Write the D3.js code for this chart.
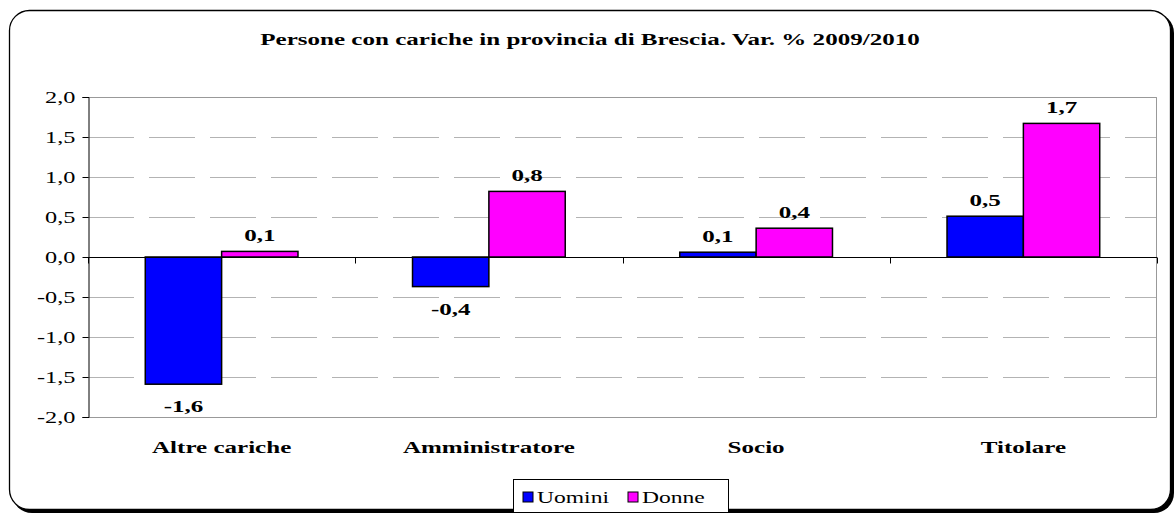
<!DOCTYPE html>
<html>
<head>
<meta charset="utf-8">
<script src="https://cdn.jsdelivr.net/npm/d3@7"></script>
<style>
  body { margin: 0; background: #fff; }
</style>
</head>
<body>
<div id="chart"></div>
<script>
const categories = ["Altre cariche", "Amministratore", "Socio", "Titolare"];
const seriesNames = ["Uomini", "Donne"];
const uomini = [-1.59, -0.37, 0.06, 0.51];
const donne = [0.07, 0.82, 0.36, 1.67];
const yTicks = [-2, -1.5, -1, -0.5, 0, 0.5, 1, 1.5, 2];
const colors = ["#0000ff", "#ff00ff"];
const title = "Persone con cariche in provincia di Brescia. Var. % 2009/2010";

const width = 1176, height = 515;
const margin = { top: 97, right: 19, bottom: 98, left: 88 };
const FONT = "'Liberation Serif', 'Times New Roman', 'DejaVu Serif', serif";
const FS = 17;

const svg = d3.select("#chart").append("svg")
    .attr("width", width)
    .attr("height", height)
    .attr("font-family", FONT);

// text in the original is stretched sideways; take the stretch from the title width
const probe = svg.append("text")
    .attr("font-size", FS).attr("font-weight", "bold").text(title);
const SX = 660 / probe.node().getComputedTextLength();
probe.remove();

function stretch(sel, px, py) {
    sel.attr("transform", (d, i) => `translate(${px(d, i)},${py(d, i)}) scale(${SX},1)`);
}

// outer frame with shadow
svg.append("rect")
    .attr("x", 12).attr("y", 13)
    .attr("width", 1162).attr("height", 500)
    .attr("rx", 20)
    .attr("fill", "#000");
svg.append("rect")
    .attr("x", 9.5).attr("y", 10.5)
    .attr("width", 1161).attr("height", 499)
    .attr("rx", 20)
    .attr("fill", "#fff")
    .attr("stroke", "#000")
    .attr("stroke-width", 1.3);

const x = d3.scaleBand()
    .domain(categories)
    .range([margin.left, width - margin.right]);
const inner = d3.scaleBand()
    .domain(seriesNames)
    .range([0, x.bandwidth()])
    .paddingOuter(0.75)
    .paddingInner(0);
const y = d3.scaleLinear()
    .domain([-2, 2])
    .range([height - margin.bottom, margin.top]);

const fmt = v => d3.format(".1f")(v).replace(".", ",").replace("−", "-");

// gridlines (dashed look)
svg.append("g")
    .selectAll("line")
    .data(yTicks.filter(t => t !== 0 && t !== -2))
    .join("line")
    .attr("x1", margin.left)
    .attr("x2", width - margin.right)
    .attr("y1", d => Math.round(y(d)) + 0.5)
    .attr("y2", d => Math.round(y(d)) + 0.5)
    .attr("stroke", "#b3b3b3")
    .attr("stroke-width", 1)
    .attr("stroke-dasharray", "46,15");

// plot area border
svg.append("path")
    .attr("d", `M${margin.left},${y(2) + 0.5}H${width - margin.right - 0.5}V${y(-2) + 0.5}H${margin.left}`)
    .attr("fill", "none")
    .attr("stroke", "#999")
    .attr("stroke-width", 1);

// bars
const groups = svg.append("g")
    .selectAll("g")
    .data(categories)
    .join("g")
    .attr("transform", d => `translate(${x(d)},0)`);

const rows = (d, i) => [
    { s: "Uomini", v: uomini[i], c: colors[0] },
    { s: "Donne", v: donne[i], c: colors[1] }
];

groups.selectAll("rect")
    .data(rows)
    .join("rect")
    .attr("x", d => inner(d.s))
    .attr("width", inner.bandwidth())
    .attr("y", d => y(Math.max(0, d.v)))
    .attr("height", d => Math.abs(y(d.v) - y(0)))
    .attr("fill", d => d.c)
    .attr("stroke", "#000")
    .attr("stroke-width", 1.5);

groups.selectAll("text")
    .data(rows)
    .join("text")
    .attr("text-anchor", "middle")
    .attr("font-size", FS)
    .attr("font-weight", "bold")
    .text(d => fmt(d.v))
    .call(stretch,
        d => inner(d.s) + inner.bandwidth() / 2,
        d => d.v >= 0 ? y(d.v) - 10 : y(d.v) + 28);

// y axis
const yAxis = svg.append("g")
    .attr("transform", `translate(${margin.left + 0.5},0)`)
    .call(d3.axisLeft(y).tickValues(yTicks).tickSize(6).tickFormat(fmt));
yAxis.attr("font-family", FONT);
yAxis.selectAll("path, line").attr("stroke", "#000");
yAxis.selectAll("text")
    .attr("font-size", FS - 0.5)
    .attr("fill", "#000")
    .attr("x", null).attr("y", null).attr("dy", "0.35em")
    .attr("text-anchor", "end")
    .attr("transform", `translate(-13,0) scale(${SX},1)`);

// zero line with category ticks
const zeroY = Math.round(y(0)) + 0.5;
svg.append("line")
    .attr("x1", margin.left)
    .attr("x2", width - margin.right)
    .attr("y1", zeroY).attr("y2", zeroY)
    .attr("stroke", "#000");
svg.append("g")
    .selectAll("line")
    .data(categories.concat(["end"]))
    .join("line")
    .attr("x1", (d, i) => Math.round(margin.left + i * x.step()) + 0.5)
    .attr("x2", (d, i) => Math.round(margin.left + i * x.step()) + 0.5)
    .attr("y1", zeroY)
    .attr("y2", zeroY + 6)
    .attr("stroke", "#000");

// category labels
svg.append("g")
    .selectAll("text")
    .data(categories)
    .join("text")
    .attr("text-anchor", "middle")
    .attr("font-size", FS)
    .attr("font-weight", "bold")
    .text(d => d)
    .call(stretch, d => x(d) + x.bandwidth() / 2, () => 453);

// title
svg.append("text")
    .attr("text-anchor", "middle")
    .attr("font-size", FS)
    .attr("font-weight", "bold")
    .text(title)
    .call(stretch, () => 590, () => 45);

// legend
const legend = svg.append("g").attr("transform", "translate(513.5,479.5)");
legend.append("rect")
    .attr("width", 215).attr("height", 33)
    .attr("fill", "#fff")
    .attr("stroke", "#000");
const items = legend.selectAll("g")
    .data(seriesNames)
    .join("g")
    .attr("transform", (d, i) => `translate(${[9.5, 114.5][i]},0)`);
items.append("rect")
    .attr("y", 12.5)
    .attr("width", 10).attr("height", 10)
    .attr("fill", (d, i) => colors[i])
    .attr("stroke", "#000");
items.append("text")
    .attr("font-size", FS - 1)
    .text(d => d)
    .call(stretch, () => 14, () => 23.5);
</script>
</body>
</html>
